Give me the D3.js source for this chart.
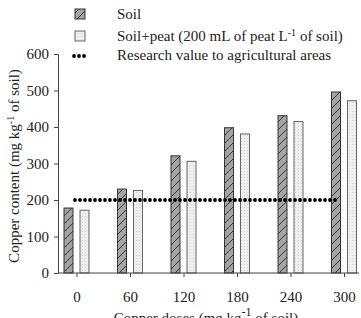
<html>
<head>
	<meta charset='utf-8' />
	<title>Copper content</title>
	<script src="https://cdn.jsdelivr.net/npm/d3@7"></script>
	<style>
	body { margin: 0; background: #fff; }
	text { font-family: 'Liberation Serif', 'Times New Roman', serif; fill: #222; }
	</style>
</head>
<body>
<script>

	// data
	var doses = [0, 60, 120, 180, 240, 300];
	var soil = [178, 230, 321, 398, 431, 496];
	var soilPeat = [172, 226, 306, 381, 415, 472];
	var researchValue = [200, 200, 200, 200, 200, 200];
	var yTicks = [0, 100, 200, 300, 400, 500, 600];

	var serif = "'Liberation Serif', 'Times New Roman', serif";
	var margin = {top: 54, left: 58};
	var width = 301, height = 219;

	var base = d3.select("body").append("svg")
		.attr("width", 361)
		.attr("height", 318);

	var defs = base.append("defs");

	var hatch = defs.append("pattern")
		.attr("id", "hatch")
		.attr("patternUnits", "userSpaceOnUse")
		.attr("width", 8).attr("height", 8);
	hatch.append("rect").attr("width", 8).attr("height", 8).attr("fill", "#a4a4a4");
	hatch.append("path")
		.attr("d", "M-1,9 L9,-1 M-3,3 L3,-3 M5,11 L11,5")
		.attr("stroke", "#2a2a2a")
		.attr("stroke-width", 0.9);

	var dots = defs.append("pattern")
		.attr("id", "dots")
		.attr("patternUnits", "userSpaceOnUse")
		.attr("width", 3).attr("height", 3);
	dots.append("rect").attr("width", 3).attr("height", 3).attr("fill", "#efefef");
	dots.append("rect").attr("width", 1).attr("height", 1).attr("fill", "#d4d4d4");

	var svg = base.append("g").attr("transform", "translate(" + margin.left + "," + margin.top + ")");

	var xScale = d3.scalePoint().domain(doses).range([18.5, 286]);
	var yScale = d3.scaleLinear().domain([0, 600]).range([height, 0]);

	var barW = 9, off = 3.5;

	svg.selectAll(".soil")
		.data(doses)
		.enter().append("rect")
		.attr("class", "soil")
		.attr("x", (d) => xScale(d) - off - barW)
		.attr("y", (d, i) => yScale(soil[i]))
		.attr("width", barW)
		.attr("height", (d, i) => yScale(0) - yScale(soil[i]))
		.attr("fill", "url(#hatch)")
		.attr("stroke", "#333")
		.attr("stroke-width", 1);

	svg.selectAll(".peat")
		.data(doses)
		.enter().append("rect")
		.attr("class", "peat")
		.attr("x", (d) => xScale(d) + off)
		.attr("y", (d, i) => yScale(soilPeat[i]))
		.attr("width", barW)
		.attr("height", (d, i) => yScale(0) - yScale(soilPeat[i]))
		.attr("fill", "url(#dots)")
		.attr("stroke", "#666")
		.attr("stroke-width", 1);

	var line = d3.line()
		.x((d, i) => xScale(doses[i]) - (i == doses.length - 1 ? 6 : 1.5))
		.y((d) => yScale(d));

	svg.append("path")
		.datum(researchValue)
		.attr("d", line)
		.attr("fill", "none")
		.attr("stroke", "#000")
		.attr("stroke-width", 3.8)
		.attr("stroke-linecap", "round")
		.attr("stroke-dasharray", "0,5");

	// axes
	var yAxis = svg.append("g")
		.call(d3.axisLeft(yScale).tickValues(yTicks).tickSize(4).tickPadding(5).tickSizeOuter(4));
	var xAxis = svg.append("g")
		.attr("transform", "translate(0," + height + ")")
		.call(d3.axisBottom(xScale).tickSize(4).tickPadding(14).tickSizeOuter(0));
	xAxis.select(".domain").attr("d", "M0,0H" + width);

	[yAxis, xAxis].forEach(function(g) {
		g.attr("font-family", serif).attr("font-size", 15);
		g.selectAll("path, line").attr("stroke", "#444");
		g.selectAll("text").attr("fill", "#222");
	});

	// axis titles
	var yt = base.append("text")
		.attr("transform", "translate(19,166) rotate(-90)")
		.attr("text-anchor", "middle")
		.attr("font-size", "15px");
	yt.append("tspan").text("Copper content  (mg kg");
	yt.append("tspan").attr("baseline-shift", "super").attr("font-size", "10px").text("-1");
	yt.append("tspan").text(" of soil)");

	var xt = base.append("text")
		.attr("x", 206)
		.attr("y", 323)
		.attr("text-anchor", "middle")
		.attr("font-size", "15px");
	xt.append("tspan").text("Copper doses (mg kg");
	xt.append("tspan").attr("baseline-shift", "super").attr("font-size", "12px").text("-1");
	xt.append("tspan").text(" of soil)");

	// legend
	var leg = base.append("g");
	leg.append("rect").attr("x", 75).attr("y", 9).attr("width", 10).attr("height", 10)
		.attr("fill", "url(#hatch)").attr("stroke", "#333");
	leg.append("text").attr("x", 117).attr("y", 19).attr("font-size", "15px").text("Soil");

	leg.append("rect").attr("x", 75).attr("y", 31).attr("width", 10).attr("height", 10)
		.attr("fill", "url(#dots)").attr("stroke", "#666");
	var lt = leg.append("text").attr("x", 117).attr("y", 41).attr("font-size", "15px");
	lt.append("tspan").text("Soil+peat (200 mL of peat L");
	lt.append("tspan").attr("baseline-shift", "super").attr("font-size", "10px").text("-1");
	lt.append("tspan").text(" of soil)");

	leg.append("line").attr("x1", 74).attr("x2", 88).attr("y1", 56).attr("y2", 56)
		.attr("stroke", "#000").attr("stroke-width", 3.8)
		.attr("stroke-linecap", "round").attr("stroke-dasharray", "0,5");
	leg.append("text").attr("x", 117).attr("y", 60).attr("font-size", "15px")
		.text("Research value to agricultural areas");

</script>
</body>
</html>
